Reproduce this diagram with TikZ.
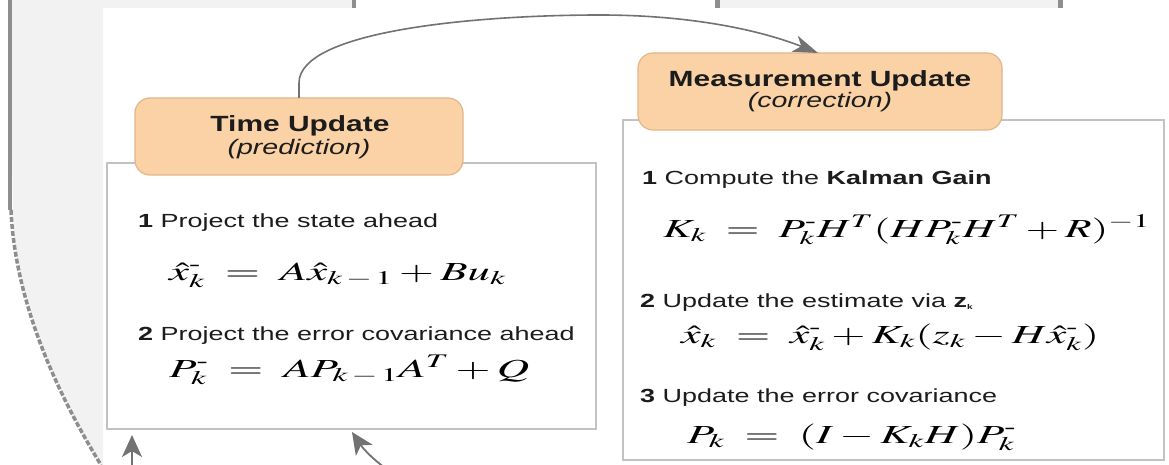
\documentclass[tikz,border=0pt]{standalone}
\usepackage{amsmath}
\usepackage{mathptmx}
\usepackage{fontspec}
\setmainfont{Liberation Serif}
\setsansfont{Liberation Sans}
\usetikzlibrary{arrows.meta}
\definecolor{tabfill}{HTML}{FAD2A6}
\definecolor{tabdraw}{HTML}{E0B68A}
\definecolor{boxdraw}{HTML}{C2C2C2}
\definecolor{arcgray}{HTML}{727272}
\definecolor{bggray}{HTML}{F2F2F2}
\definecolor{markgray}{HTML}{8E8E8E}
\definecolor{txtc}{HTML}{1C1C1C}
\newsavebox\eqbx
\newlength\eqwd
\newcommand\fiteq[2]{\sbox\eqbx{#2}\setlength\eqwd{\wd\eqbx}\pgfmathsetmacro\eqsx{#1/\eqwd}\scalebox{\eqsx}[1]{\usebox\eqbx}}
\newcommand\bodystr[1]{\scalebox{1.42}[1]{#1}}
\newcommand\headstr[1]{\scalebox{1.36}[1]{#1}}
\newcommand\mn{^{\text{-}}}
\tikzset{
  panel/.style={draw=boxdraw, line width=1.6pt, fill=white, inner sep=0pt, outer sep=0pt},
  tabbox/.style={draw=tabdraw, line width=1.2pt, fill=tabfill, rounded corners=15pt, inner sep=0pt, outer sep=0pt},
  head/.style={font=\sffamily\bfseries\fontsize{22}{26}\selectfont, text=txtc, inner sep=0pt, anchor=base},
  subhead/.style={font=\sffamily\itshape\fontsize{21}{25}\selectfont, text=txtc, inner sep=0pt, anchor=base},
  body/.style={font=\sffamily\fontsize{19}{23}\selectfont, text=txtc, inner sep=0pt, anchor=base west},
  eqn/.style={font=\fontsize{26}{30}\selectfont, text=black, inner sep=0pt, anchor=base west},
  link/.style={draw=arcgray, line width=1.6pt, -{Stealth[length=25pt,width=17pt,inset=7pt]}},
  feed/.style={draw=arcgray, line width=1.8pt, -{Stealth[length=22pt,width=20pt,inset=6pt]}},
}
\begin{document}
\begin{tikzpicture}[x=1pt,y=-1pt]
\useasboundingbox (0,0) rectangle (1169,465);
\clip (0,0) rectangle (1169,465);
% scanned page background
\fill[white] (0,0) rectangle (1169,465);
\fill[bggray] (10,0) -- (352,0) -- (352,8) -- (103,8) -- (103,465) -- (100,465)
  .. controls (55,390) and (15,300) .. (13,210) -- cycle;
\fill[bggray] (720,0) rectangle (1058,8);
\fill[markgray] (352,0) rectangle (356,8);
\fill[markgray] (715,0) rectangle (720,8);
\fill[markgray] (1058,0) rectangle (1063,8);
\draw[markgray, line width=4pt] (10,0) -- (10,210);
\draw[markgray, line width=3.5pt, dash pattern=on 5pt off 2pt] (11,210) .. controls (15,300) and (55,390) .. (101,465);

% panels
\node[panel, minimum width=489pt, minimum height=266pt] (lb) at (351.5,296) {};
\node[panel, minimum width=541pt, minimum height=340pt] (rb) at (893.5,290) {};
% tabs
\node[tabbox, minimum width=328pt, minimum height=77pt] (tu) at (299,136.5) {};
\node[tabbox, minimum width=364pt, minimum height=77pt] (mu) at (820,91.5) {};

\node[head] (tut) at (300,132) {\headstr{Time Update}};
\node[subhead] (tus) at (299,155) {\headstr{(prediction)}};
\node[head] (mut) at (820,87) {\headstr{Measurement Update}};
\node[subhead] (mus) at (820,108) {\headstr{(correction)}};

% left panel content
\node[body] (l1) at (138,227) {\bodystr{\textbf{1} Project the state ahead}};
\node[eqn] (e1) at (169,280) {\fiteq{337}{$\hat{x}\mn_k \;=\; A\hat{x}_{k\,-\,1} + Bu_k$}};
\node[body] (l2) at (138,340) {\bodystr{\textbf{2} Project the error covariance ahead}};
\node[eqn] (e2) at (169,377) {\fiteq{360}{$P\mn_k \;=\; AP_{k\,-\,1}A^T + Q$}};

% right panel content
\node[body] (r1) at (642,185) {\bodystr{\textbf{1} Compute the \textbf{Kalman Gain}}};
\node[eqn] (e3) at (663,237) {\fiteq{487}{$K_k \;=\; P\mn_kH^T(HP\mn_kH^T + R)^{-1}$}};
\node[body] (r2) at (640,307) {\bodystr{\textbf{2} Update the estimate via \textbf{z}\raisebox{-0.25ex}{\fontsize{7}{8}\selectfont\textbf{k}}}};
\node[eqn] (e4) at (681,343) {\fiteq{418}{$\hat{x}_k \;=\; \hat{x}\mn_k + K_k(z_k - H\hat{x}\mn_k)$}};
\node[body] (r3) at (640,402) {\bodystr{\textbf{3} Update the error covariance}};
\node[eqn] (e5) at (687,443) {\fiteq{329}{$P_k \;=\; (I - K_kH)P\mn_k$}};

% connectors
\draw[link] (tu.north) -- ++(0,-15) .. controls (299,30) and (480,15) .. (600,15)
  .. controls (690,15) and (760,30) .. ([xshift=-2pt]mu.north);
\coordinate (fa0) at (132,470);
\coordinate (fa1) at (132,435);
\draw[feed] (fa0) -- (fa1);
\coordinate (fb0) at (388,470);
\coordinate (fb1) at (352,432);
\draw[feed] (fb0) .. controls (368,456) and (360,444) .. (fb1);
\end{tikzpicture}
\end{document}
